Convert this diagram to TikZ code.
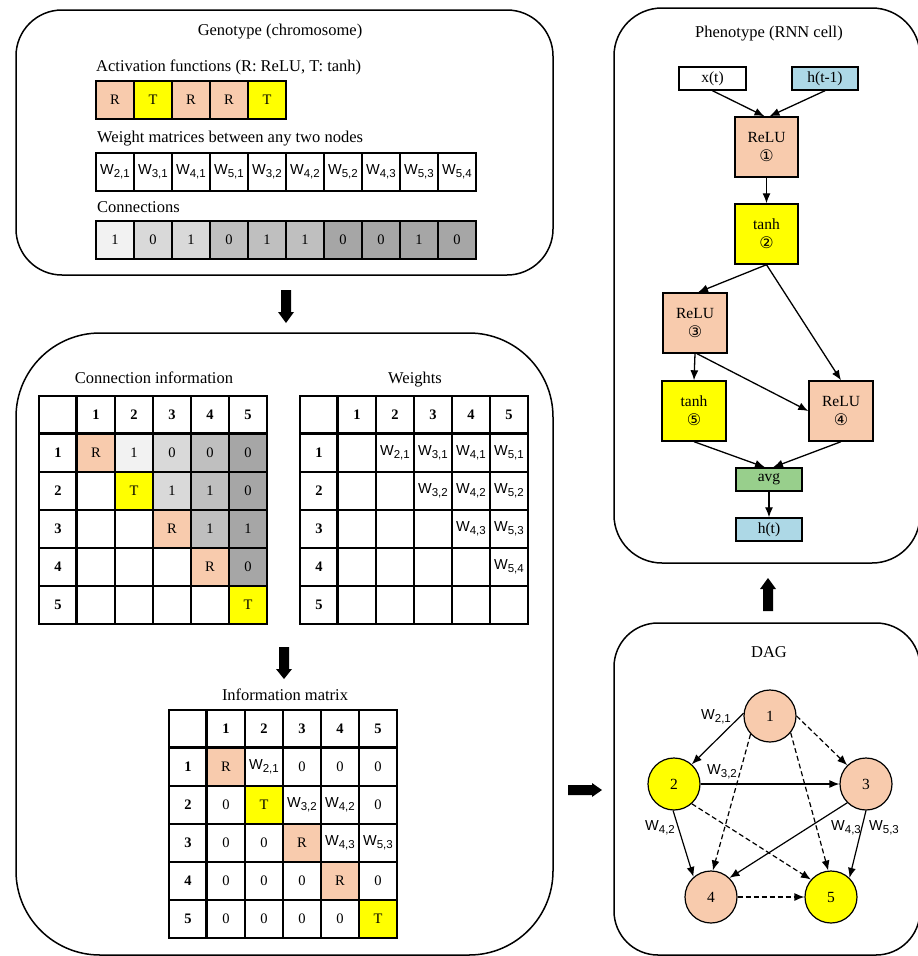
\documentclass[tikz,border=0pt]{standalone}
\usepackage{fontspec}
\setmainfont{Liberation Serif}
\newfontfamily\wfont{Liberation Sans}
\newfontfamily\symfont{DejaVu Sans}
\usetikzlibrary{arrows.meta}
\definecolor{salm}{HTML}{F8CBAD}
\definecolor{yel}{HTML}{FFFF00}
\definecolor{gA}{HTML}{F2F2F2}
\definecolor{gB}{HTML}{D9D9D9}
\definecolor{gC}{HTML}{BFBFBF}
\definecolor{gD}{HTML}{A6A6A6}
\definecolor{grn}{HTML}{98CF8C}
\definecolor{lblue}{HTML}{ADD8E6}
\newcommand{\fs}[1]{\fontsize{#1}{#1}\selectfont}
\newcommand{\Wij}[2]{{\wfont\fs{14.5}W\raisebox{-3pt}{\fs{11.5}#1,#2}}}
\newcommand{\matgrid}[3]{%
  \foreach \r in {0,...,5}{\foreach \c in {0,...,5}{
    \node[cell] (#1-\r-\c) at ({#2+19+38*\c},{#3+19+38*\r}) {};}}
  \foreach \i in {1,...,5}{
    \node[hdr] (#1-hc\i) at (#1-0-\i) {\i};
    \node[hdr] (#1-hr\i) at (#1-\i-0) {\i};}
  \draw[bar] (#1-0-1.north west) -- (#1-5-1.south west);
  \draw[bar] (#1-1-0.north west) -- (#1-1-5.north east);
}
\newcommand{\matfill}[3]{%
  \foreach \r/\c/\col in {#3}{\fill[\col] ({#1+38*\c},{#2+38*\r}) rectangle ++(38,38);}}
\newcommand{\mattext}[2]{%
  \foreach \r/\c/\t in {#2}{\node[txt] (#1-t\r\c) at (#1-\r-\c) {\t};}}
\begin{document}
\begin{tikzpicture}[x=1pt,y=-1pt,
  panel/.style={draw, line width=1.5pt},
  title/.style={font=\fs{16.5}, inner sep=0},
  lbl/.style={font=\fs{16.5}, inner sep=0, anchor=west},
  cell/.style={draw, line width=1.1pt, minimum width=38pt, minimum height=38pt, inner sep=0, font=\fs{14.5}},
  txt/.style={inner sep=0, font=\fs{14.5}},
  hdr/.style={inner sep=0, font=\fs{14.5}\bfseries},
  bar/.style={line width=3pt},
  pbox/.style={draw, line width=1.4pt, inner sep=0, font=\fontsize{15.5}{19}\selectfont, align=center},
  parr/.style={-{Latex[length=10pt,width=8pt]}, line width=1.3pt},
  dnode/.style={circle, draw, line width=1.2pt, minimum size=52pt, inner sep=0, font=\fs{15.5}},
  dsol/.style={-{Latex[length=10pt,width=8pt]}, line width=1.2pt},
  ddash/.style={dsol, dash pattern=on 5pt off 3pt},
  wl/.style={inner sep=0},
]
\useasboundingbox (0,0) rectangle (918,956);
\fill[white] (0,0) rectangle (918,956);

% panels
\draw[panel, rounded corners=46pt] (16,10) rectangle (553,275);
\draw[panel, rounded corners=84pt] (16,333) rectangle (553,955);
\draw[panel, rounded corners=48pt] (614,8) rectangle (920,563);
\draw[panel, rounded corners=44pt] (614,623) rectangle (920,955);

% block arrows
\fill (281,290) -- (291,290) -- (291,312) -- (294,312) -- (286,323) -- (278,312) -- (281,312) -- cycle;
\fill (279,647) -- (289,647) -- (289,669) -- (292,669) -- (284,679) -- (276,669) -- (279,669) -- cycle;
\fill (763,611) -- (773,611) -- (773,589) -- (776,589) -- (768,578) -- (760,589) -- (763,589) -- cycle;
\fill (568,785) -- (592,785) -- (592,783) -- (602,790) -- (592,797) -- (592,795) -- (568,795) -- cycle;

% genotype
\node[title] (gtitle) at (280,32) {Genotype (chromosome)};
\node[lbl] (actl) at (96,67) {Activation functions (R: ReLU, T: tanh)};
\foreach \i/\t/\cl in {0/R/salm,1/T/yel,2/R/salm,3/R/salm,4/T/yel}
  \node[cell, fill=\cl] (act\i) at ({115+38*\i},100) {\t};
\node[lbl] (wml) at (97,139) {Weight matrices between any two nodes};
\foreach \i/\a/\b in {0/2/1,1/3/1,2/4/1,3/5/1,4/3/2,5/4/2,6/5/2,7/4/3,8/5/3,9/5/4}
  \node[cell, fill=white] (w\i) at ({115+38*\i},172) {\Wij{\a}{\b}};
\node[lbl] (conl) at (97,207) {Connections};
\foreach \i/\t/\cl in {0/1/gA,1/0/gB,2/1/gB,3/0/gC,4/1/gC,5/1/gC,6/0/gD,7/0/gD,8/1/gD,9/0/gD}
  \node[cell, fill=\cl] (cn\i) at ({115+38*\i},240) {\t};

% connection information
\node[title] (citl) at (154,378) {Connection information};
\matfill{39}{396}{1/1/salm,2/2/yel,3/3/salm,4/4/salm,5/5/yel,1/2/gA,1/3/gB,2/3/gB,1/4/gC,2/4/gC,3/4/gC,1/5/gD,2/5/gD,3/5/gD,4/5/gD}
\matgrid{A}{39}{396}
\mattext{A}{1/1/R,1/2/1,1/3/0,1/4/0,1/5/0,2/2/T,2/3/1,2/4/1,2/5/0,3/3/R,3/4/1,3/5/1,4/4/R,4/5/0,5/5/T}

% weights
\node[title] (wtl) at (415,380) {Weights};
\matgrid{B}{300}{396}
\mattext{B}{1/2/\Wij{2}{1},1/3/\Wij{3}{1},1/4/\Wij{4}{1},1/5/\Wij{5}{1},2/3/\Wij{3}{2},2/4/\Wij{4}{2},2/5/\Wij{5}{2},3/4/\Wij{4}{3},3/5/\Wij{5}{3},4/5/\Wij{5}{4}}

% information matrix
\node[title] (imtl) at (285,695) {Information matrix};
\matfill{169}{710}{1/1/salm,2/2/yel,3/3/salm,4/4/salm,5/5/yel}
\matgrid{C}{169}{710}
\mattext{C}{1/1/R,1/2/\Wij{2}{1},1/3/0,1/4/0,1/5/0,2/1/0,2/2/T,2/3/\Wij{3}{2},2/4/\Wij{4}{2},2/5/0,3/1/0,3/2/0,3/3/R,3/4/\Wij{4}{3},3/5/\Wij{5}{3},4/1/0,4/2/0,4/3/0,4/4/R,4/5/0,5/1/0,5/2/0,5/3/0,5/4/0,5/5/T}

% phenotype
\node[title] (ptitle) at (769,34) {Phenotype (RNN cell)};
\node[pbox, minimum width=67pt, minimum height=23pt] (xt) at (712.5,78.5) {x(t)};
\node[pbox, fill=lblue, minimum width=66pt, minimum height=23pt] (htm) at (825,78.5) {h(t-1)};
\node[pbox, fill=salm, minimum width=63pt, minimum height=60pt] (r1) at (766.5,147) {ReLU\\{\symfont\fs{16}①}};
\node[pbox, fill=yel, minimum width=63pt, minimum height=60pt] (t2) at (766.5,234) {tanh\\{\symfont\fs{16}②}};
\node[pbox, fill=salm, minimum width=64pt, minimum height=60pt] (r3) at (695,323) {ReLU\\{\symfont\fs{16}③}};
\node[pbox, fill=yel, minimum width=64pt, minimum height=60pt] (t5) at (694,411) {tanh\\{\symfont\fs{16}⑤}};
\node[pbox, fill=salm, minimum width=64pt, minimum height=60pt] (r4) at (841,411) {ReLU\\{\symfont\fs{16}④}};
\node[pbox, fill=grn, minimum width=66pt, minimum height=23pt] (avg) at (769,479.5) {avg};
\node[pbox, fill=lblue, minimum width=66pt, minimum height=23pt] (ht) at (769,529.5) {h(t)};
\draw[parr] (xt.south) -- ([xshift=-2pt]r1.north);
\draw[parr] (htm.south) -- ([xshift=3pt]r1.north);
\draw[parr] (r1) -- (t2);
\draw[parr] (t2.south) -- ([xshift=3pt]r3.north);
\draw[parr] (t2.south) -- (r4.north);
\draw[parr] (r3.south) -- (t5.north);
\draw[parr] ([xshift=2pt]r3.south) -- (r4.west);
\draw[parr] (t5.south) -- ([xshift=-4pt]avg.north);
\draw[parr] (r4.south) -- ([xshift=4pt]avg.north);
\draw[parr] (avg) -- (ht);

% DAG
\node[title, font=\fs{16.5}] (dagt) at (769,652) {DAG};
\node[dnode, fill=salm] (n1) at (770,716) {1};
\node[dnode, fill=yel] (n2) at (674,784) {2};
\node[dnode, fill=salm] (n3) at (866,784) {3};
\node[dnode, fill=salm] (n4) at (711,897) {4};
\node[dnode, fill=yel] (n5) at (831,897) {5};
\draw[dsol] (n1.174) -- (n2.48);
\draw[ddash] (n1.0) -- (n3.135);
\draw[ddash] (n1.223) -- (n4.86);
\draw[ddash] (n1.321) -- (n5.96);
\draw[dsol] (n2.0) -- (n3.180);
\draw[dsol] (n2.268) -- (n4.131);
\draw[ddash] (n2.312) -- (n5.139);
\draw[dsol] (n3.225) -- (n4.46);
\draw[dsol] (n3.270) -- (n5.46);
\draw[ddash] (n4.east) -- (n5.west);
\node[wl] (l21) at (716,717) {\Wij{2}{1}};
\node[wl] (l32) at (722,772) {\Wij{3}{2}};
\node[wl] (l42) at (660,828) {\Wij{4}{2}};
\node[wl] (l43) at (846,828) {\Wij{4}{3}};
\node[wl] (l53) at (884,828) {\Wij{5}{3}};
\end{tikzpicture}
\end{document}
